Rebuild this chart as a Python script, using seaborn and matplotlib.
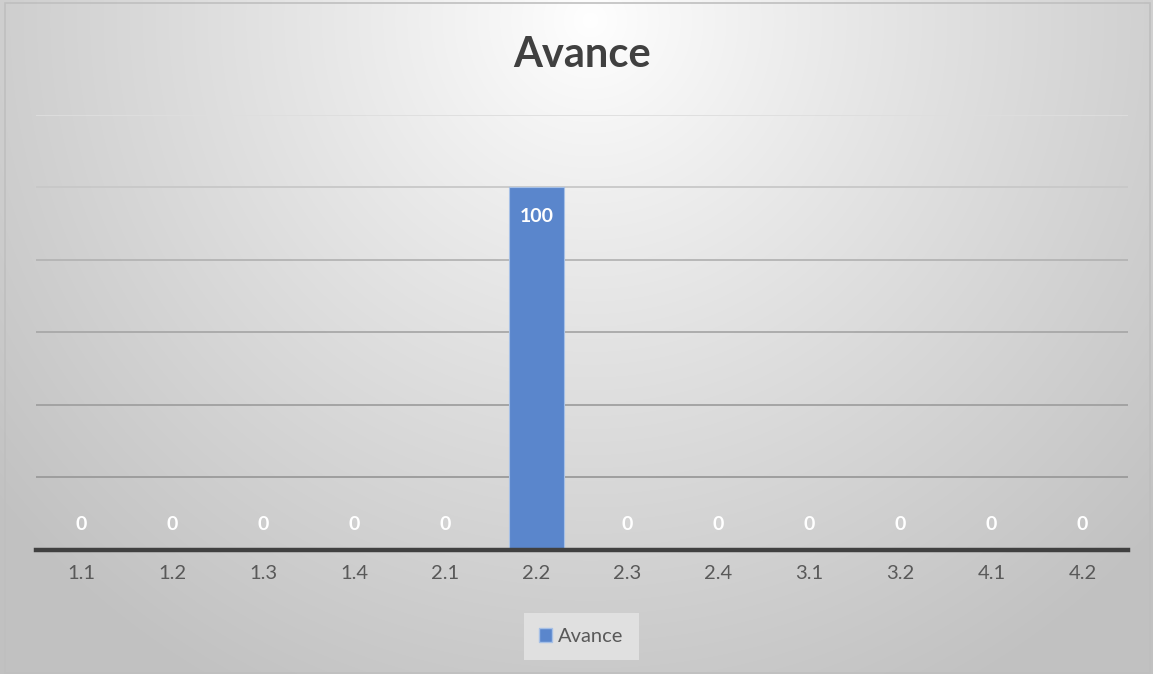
import numpy as np
import pandas as pd
import seaborn as sns
import matplotlib.pyplot as plt
from matplotlib.patches import Rectangle, Patch

# data
categorias = ["1.1", "1.2", "1.3", "1.4", "2.1", "2.2", "2.3", "2.4", "3.1", "3.2", "4.1", "4.2"]
avance = [0, 0, 0, 0, 0, 100, 0, 0, 0, 0, 0, 0]
ejes_y = [0, 20, 40, 60, 80, 100, 120]

df = pd.DataFrame({"Tarea": categorias, "Avance": avance})

sns.set_style("white")
plt.rcParams["font.family"] = ["Lato", "DejaVu Sans"]

fig = plt.figure(figsize=(11.53, 6.74), dpi=100)

# radial gradient background (Excel style)
bg = fig.add_axes([0, 0, 1, 1], zorder=-10)
h, w = 674, 1153
yy, xx = np.mgrid[0:h, 0:w]
r = np.sqrt(((xx - 590) / 760.0) ** 2 + ((yy - 20) / 760.0) ** 2)
r = np.clip(r, 0, 1)
vals = 1.0 - 0.24 * r ** 0.9
img = np.dstack([vals, vals, vals])
bg.imshow(img, aspect="auto", extent=[0, 1, 0, 1], origin="upper")
bg.axis("off")
fig.patches.append(Rectangle((0.004, 0.002), 0.993, 0.993, transform=fig.transFigure,
                             fill=False, edgecolor="#bfbfbf", linewidth=1.2))

ax = fig.add_axes([0.0312, 0.184, 0.9471, 0.6456])
ax.set_facecolor("none")

sns.barplot(data=df, x="Tarea", y="Avance", color="#5a86cc", saturation=1, width=0.6,
            edgecolor="#a6c0e6", linewidth=0.8, ax=ax, zorder=3)

ax.set_ylim(ejes_y[0], ejes_y[-1])
ax.set_yticks(ejes_y)
ax.set_yticklabels([])
grid_cols = ["#9a9a9a", "#a0a0a0", "#a8a8a8", "#b4b4b4", "#c8c8c8", "#dedede"]
for yv, c in zip(ejes_y[1:], grid_cols):
    ax.axhline(yv, color=c, linewidth=1.3, zorder=1)

for s in ["top", "right", "left"]:
    ax.spines[s].set_visible(False)
ax.spines["bottom"].set_color("#404040")
ax.spines["bottom"].set_linewidth(3.2)
ax.spines["bottom"].set_zorder(5)
ax.tick_params(axis="both", length=0)
ax.tick_params(axis="x", labelsize=14.5, labelcolor="#595959", pad=11)
ax.set_xlabel("")
ax.set_ylabel("")

# data labels
for i, v in enumerate(avance):
    if v > 0:
        ax.annotate(str(v), (i, v), xytext=(0, -21), textcoords="offset points",
                    ha="center", va="center", color="white", fontsize=14, fontweight="bold")
    else:
        ax.annotate(str(v), (i, v), xytext=(0, 18), textcoords="offset points",
                    ha="center", va="center", color="white", fontsize=14, fontweight="bold")

fig.text(0.505, 0.918, "Avance", ha="center", va="center", fontsize=30,
         fontweight="bold", color="#404040")

handle = Patch(facecolor="#5a86cc", edgecolor="#a6c0e6", label="Avance")
leg = fig.legend(handles=[handle], loc="center", bbox_to_anchor=(0.5043, 0.0556),
                 frameon=True, facecolor="#e0e0e0", edgecolor="none", fancybox=False,
                 fontsize=14.5, handlelength=0.65, handleheight=0.65, handletextpad=0.3,
                 borderpad=0.75, borderaxespad=0)
for t in leg.get_texts():
    t.set_color("#595959")
leg.get_frame().set_alpha(1)

fig.savefig("out.png", dpi=100)
